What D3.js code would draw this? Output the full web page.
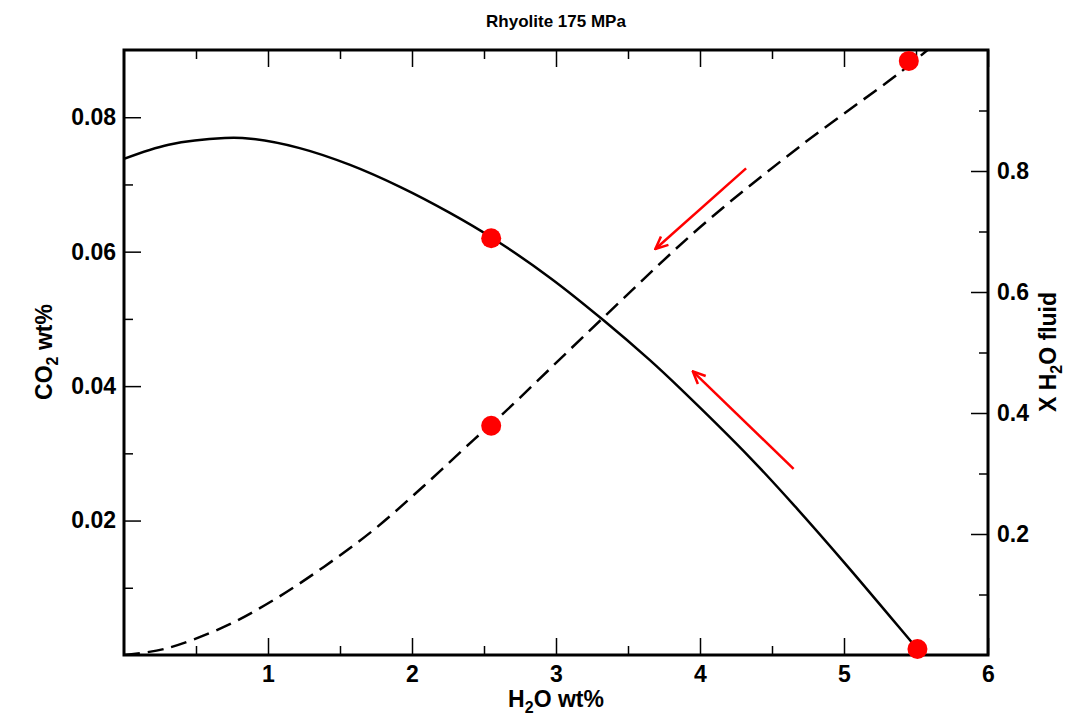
<!DOCTYPE html>
<html>
<head>
<meta charset="utf-8">
<script src="https://cdn.jsdelivr.net/npm/d3@7"></script>
<style>
  body { margin: 0; background: white; }
  svg text { font-family: "Liberation Sans", Arial, sans-serif; font-weight: bold; fill: black; }
</style>
</head>
<body>
<div id="chart"></div>
<script>
// solid curve: CO2 wt% vs H2O wt% (left axis)
const h2oSolid = [0, 0.31, 0.70, 0.88, 1.22, 1.57, 1.92, 2.26, 2.56, 2.96, 3.33, 3.65, 3.86, 4.35, 4.66, 5.02, 5.49, 5.51];
const co2Solid = [0.0738, 0.0759, 0.0769, 0.0768, 0.0754, 0.0729, 0.0696, 0.0658, 0.0620, 0.0561, 0.0498, 0.0439, 0.0397, 0.0293, 0.0221, 0.0133, 0.0014, 0.0009];

// dashed curve: X H2O fluid vs H2O wt% (right axis)
const h2oDash = [0, 0.28, 0.69, 1.04, 1.39, 1.74, 2.08, 2.43, 2.61, 3.33, 4.0, 4.69, 5.39, 5.58];
const xh2oDash = [0, 0.010, 0.046, 0.091, 0.146, 0.208, 0.279, 0.356, 0.394, 0.558, 0.707, 0.840, 0.963, 1.0];

// red points
const dotH2O = [2.55, 2.55, 5.45, 5.51];
const dotVal = [0.062, 0.379, 0.982, 0.0009];
const dotAxis = ["co2", "xh2o", "xh2o", "co2"];

// arrows (left axis units)
const arrowFromH2O = [4.32, 4.65];
const arrowFromCO2 = [0.0724, 0.0277];
const arrowToH2O = [3.69, 3.95];
const arrowToCO2 = [0.0604, 0.0422];

const xMajor = [1, 2, 3, 4, 5, 6];
const xMinor = [0.5, 1.5, 2.5, 3.5, 4.5, 5.5];
const co2Major = [0.02, 0.04, 0.06, 0.08];
const co2Minor = [0.01, 0.03, 0.05, 0.07];
const xh2oMajor = [0.2, 0.4, 0.6, 0.8];
const xh2oMinor = [0.1, 0.3, 0.5, 0.7, 0.9];

const wSvg = 1075, hSvg = 715;
const pLeft = 124, pRight = 988, pTop = 50, pBottom = 655;

const svg = d3.select("#chart").append("svg")
    .attr("width", wSvg)
    .attr("height", hSvg);

const x = d3.scaleLinear([0, 6], [pLeft, pRight]);
const yCo2 = d3.scaleLinear([0, 0.09], [pBottom, pTop]);
const yX = d3.scaleLinear([0, 1], [pBottom, pTop]);

const defs = svg.append("defs");
defs.append("clipPath").attr("id", "plotClip")
    .append("rect")
    .attr("x", pLeft).attr("y", pTop)
    .attr("width", pRight - pLeft).attr("height", pBottom - pTop);

defs.append("marker")
    .attr("id", "head")
    .attr("markerUnits", "userSpaceOnUse")
    .attr("viewBox", "0 0 12 12")
    .attr("refX", 11).attr("refY", 6)
    .attr("markerWidth", 15).attr("markerHeight", 15)
    .attr("orient", "auto")
    .append("path")
    .attr("d", "M1,1.5 L11,6 L1,10.5")
    .attr("fill", "none")
    .attr("stroke", "red")
    .attr("stroke-width", 2);

function tickAxis(axis, tr) {
    const g = svg.append("g").attr("transform", tr).call(axis);
    g.select(".domain").remove();
    g.selectAll(".tick line").attr("stroke", "black").attr("stroke-width", 1.5);
    g.selectAll("text").style("font-size", "23px");
    return g;
}

// x axis bottom + top
tickAxis(d3.axisBottom(x).tickValues(xMajor).tickSize(-17).tickPadding(11).tickFormat(d3.format("d")), `translate(0,${pBottom})`);
tickAxis(d3.axisBottom(x).tickValues(xMinor).tickSize(-9).tickFormat(""), `translate(0,${pBottom})`);
tickAxis(d3.axisTop(x).tickValues(xMajor).tickSize(-17).tickFormat(""), `translate(0,${pTop})`);
tickAxis(d3.axisTop(x).tickValues(xMinor).tickSize(-9).tickFormat(""), `translate(0,${pTop})`);

// left axis
tickAxis(d3.axisLeft(yCo2).tickValues(co2Major).tickSize(-17).tickPadding(8).tickFormat(d3.format(".2f")), `translate(${pLeft},0)`);
tickAxis(d3.axisLeft(yCo2).tickValues(co2Minor).tickSize(-9).tickFormat(""), `translate(${pLeft},0)`);

// right axis
tickAxis(d3.axisRight(yX).tickValues(xh2oMajor).tickSize(-17).tickPadding(9).tickFormat(d3.format(".1f")), `translate(${pRight},0)`);
tickAxis(d3.axisRight(yX).tickValues(xh2oMinor).tickSize(-9).tickFormat(""), `translate(${pRight},0)`);

const plot = svg.append("g").attr("clip-path", "url(#plotClip)");

const solidLine = d3.line()
    .x((d, i) => x(h2oSolid[i]))
    .y((d, i) => yCo2(co2Solid[i]))
    .curve(d3.curveCatmullRom.alpha(0.5));

plot.append("path")
    .attr("d", solidLine(h2oSolid))
    .attr("fill", "none")
    .attr("stroke", "black")
    .attr("stroke-width", 2.5);

const dashLine = d3.line()
    .x((d, i) => x(h2oDash[i]))
    .y((d, i) => yX(xh2oDash[i]))
    .curve(d3.curveCatmullRom.alpha(0.5));

plot.append("path")
    .attr("d", dashLine(h2oDash))
    .attr("fill", "none")
    .attr("stroke", "black")
    .attr("stroke-width", 2.5)
    .attr("stroke-dasharray", "16,8");

// arrows
for (let i = 0; i < arrowFromH2O.length; i++) {
    svg.append("line")
        .attr("x1", x(arrowFromH2O[i]))
        .attr("y1", yCo2(arrowFromCO2[i]))
        .attr("x2", x(arrowToH2O[i]))
        .attr("y2", yCo2(arrowToCO2[i]))
        .attr("stroke", "red")
        .attr("stroke-width", 2.5)
        .attr("marker-end", "url(#head)");
}

// frame
svg.append("rect")
    .attr("x", pLeft).attr("y", pTop)
    .attr("width", pRight - pLeft).attr("height", pBottom - pTop)
    .attr("fill", "none")
    .attr("stroke", "black")
    .attr("stroke-width", 3);

// dots
svg.selectAll(".dot")
    .data(dotH2O)
    .enter()
    .append("circle")
    .attr("class", "dot")
    .attr("cx", d => x(d))
    .attr("cy", (d, i) => dotAxis[i] == "co2" ? yCo2(dotVal[i]) : yX(dotVal[i]))
    .attr("r", 10)
    .attr("fill", "red");

// title
svg.append("text")
    .attr("x", 556).attr("y", 27)
    .attr("text-anchor", "middle")
    .style("font-size", "17px")
    .text("Rhyolite 175 MPa");

// axis titles
const xt = svg.append("text")
    .attr("x", (pLeft + pRight) / 2).attr("y", 707)
    .attr("text-anchor", "middle")
    .style("font-size", "23px");
xt.append("tspan").text("H");
xt.append("tspan").text("2").style("font-size", "16px").attr("dy", 6);
xt.append("tspan").text("O wt%").attr("dy", -6);

const yt = svg.append("text")
    .attr("transform", "translate(52,352) rotate(-90)")
    .attr("text-anchor", "middle")
    .style("font-size", "23px");
yt.append("tspan").text("CO");
yt.append("tspan").text("2").style("font-size", "16px").attr("dy", 6);
yt.append("tspan").text(" wt%").attr("dy", -6);

const rt = svg.append("text")
    .attr("transform", "translate(1056,352) rotate(-90)")
    .attr("text-anchor", "middle")
    .style("font-size", "23px");
rt.append("tspan").text("X H");
rt.append("tspan").text("2").style("font-size", "16px").attr("dy", 6);
rt.append("tspan").text("O fluid").attr("dy", -6);
</script>
</body>
</html>
